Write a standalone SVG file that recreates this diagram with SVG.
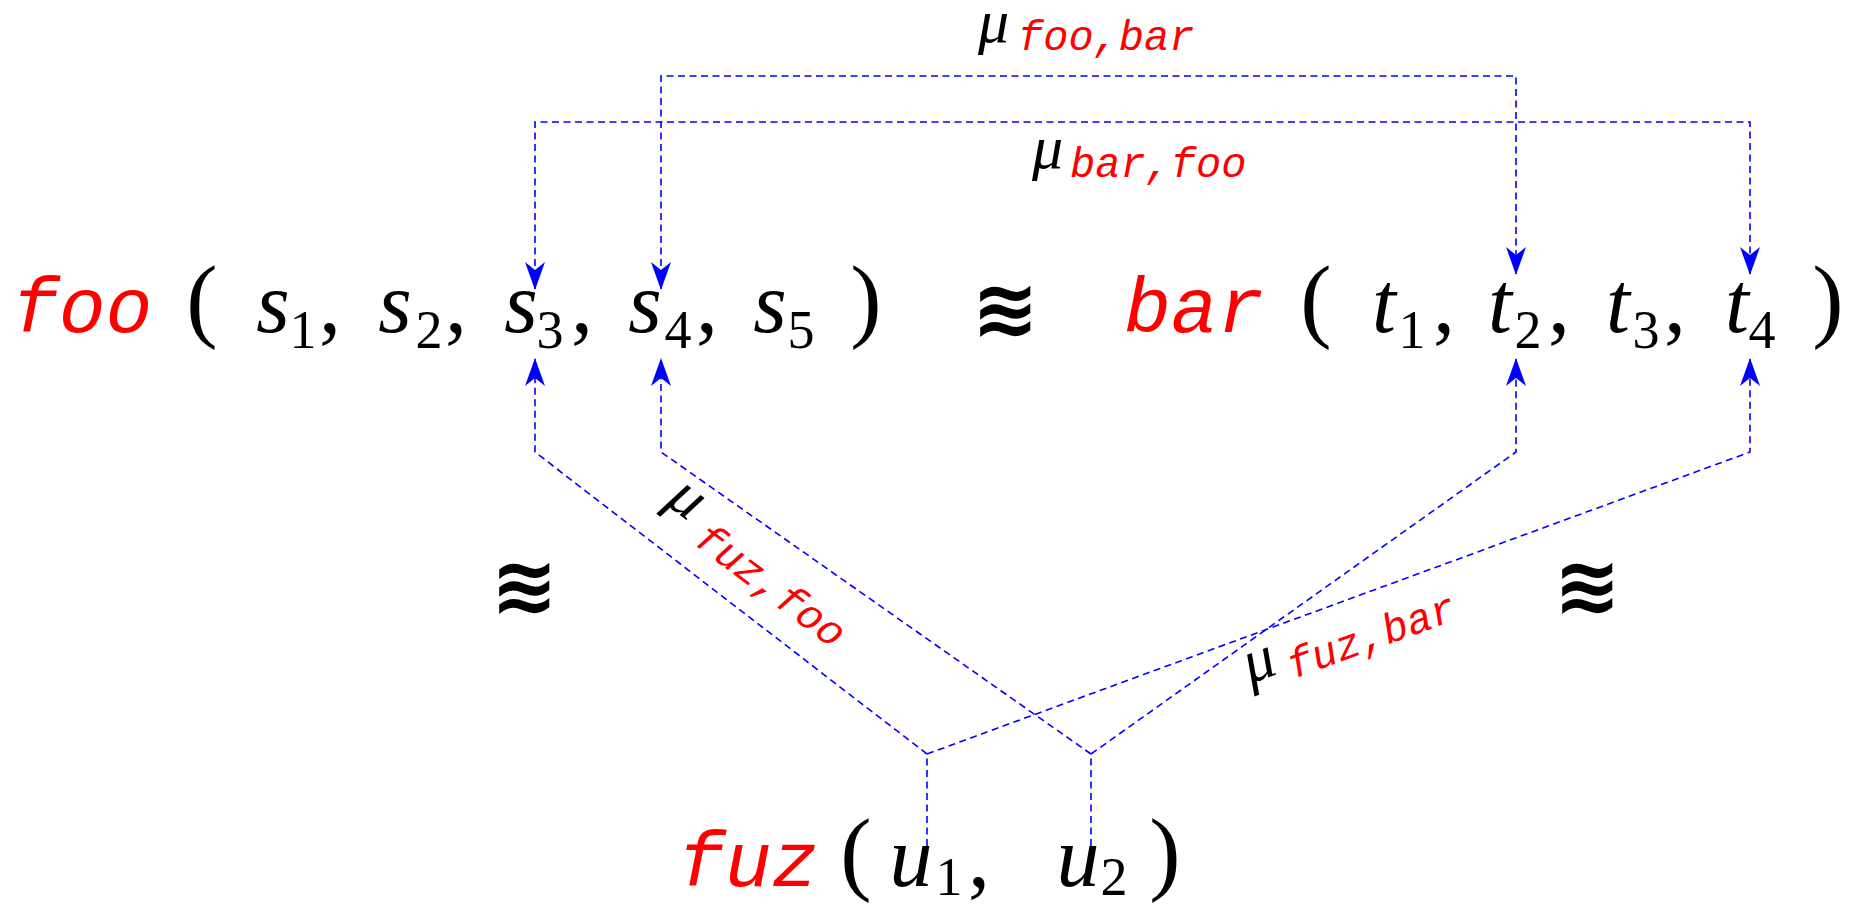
<svg xmlns="http://www.w3.org/2000/svg" width="1858" height="908" viewBox="0 0 1858 908">
<defs>
<style>
.fn{font-family:"Liberation Mono",monospace;font-style:italic;font-size:78px;fill:#ff0000}
.m{font-family:"Liberation Serif",serif;font-style:italic;font-size:86px;fill:#000;text-anchor:middle}
.d{font-family:"Liberation Serif",serif;font-size:54px;fill:#000;text-anchor:middle}
.p{font-family:"Liberation Serif",serif;font-size:94px;fill:#000;text-anchor:middle}
.c{font-family:"Liberation Serif",serif;font-size:88px;fill:#000;text-anchor:middle}
.eq{font-family:"DejaVu Sans",sans-serif;font-weight:bold;font-size:80px;fill:#000;text-anchor:middle}
.mu{font-family:"Liberation Serif",serif;font-style:italic;font-size:62px;fill:#000}
.ms{font-family:"Liberation Mono",monospace;font-style:italic;font-size:42px;fill:#ff0000}
.cn{fill:none;stroke:#0000ff;stroke-width:1.6;stroke-dasharray:7 4.5}
</style>
<marker id="ah" viewBox="0 0 28 20" markerWidth="28" markerHeight="20" markerUnits="userSpaceOnUse" refX="27" refY="10" orient="auto-start-reverse">
<path d="M0,0 L28,10 L0,20 L8,10 Z" fill="#0000ff"/>
</marker>
</defs>
<rect width="1858" height="908" fill="#fff"/>

<g id="connectors">
<path class="cn" d="M661,289 L661,76 L1516,76 L1516,274" marker-start="url(#ah)" marker-end="url(#ah)"/>
<path class="cn" d="M535,289 L535,122 L1750,122 L1750,274" marker-start="url(#ah)" marker-end="url(#ah)"/>
<path class="cn" d="M927,846 L927,754 L535,452 L535,359" marker-end="url(#ah)"/>
<path class="cn" d="M927,754 L1750,452 L1750,359" marker-end="url(#ah)"/>
<path class="cn" d="M1091,846 L1091,754 L661,452 L661,359" marker-end="url(#ah)"/>
<path class="cn" d="M1091,754 L1516,452 L1516,359" marker-end="url(#ah)"/>
</g>

<g id="label-foo-bar">
<text class="mu" x="978" y="42">μ</text>
<text class="ms" x="1018" y="50">foo,bar</text>
</g>
<g id="label-bar-foo">
<text class="mu" x="1032" y="168">μ</text>
<text class="ms" x="1070" y="177">bar,foo</text>
</g>
<g id="label-fuz-foo" transform="translate(692,543) rotate(37)">
<text class="mu" x="-46" y="-15">μ</text>
<text class="ms" x="0" y="0">fuz,foo</text>
</g>
<g id="label-fuz-bar" transform="translate(1293,679) rotate(-20)">
<text class="mu" x="-42" y="-10">μ</text>
<text class="ms" x="0" y="0">fuz,bar</text>
</g>

<g id="foo">
<text class="fn" x="12" y="332">foo</text>
<text class="p" x="202" y="330">(</text>
<text class="m" x="273" y="332">s</text><text class="d" x="303" y="348">1</text><text class="c" x="330" y="332">,</text>
<text class="m" x="395" y="332">s</text><text class="d" x="429" y="348">2</text><text class="c" x="456" y="332">,</text>
<text class="m" x="521" y="332">s</text><text class="d" x="550" y="348">3</text><text class="c" x="582" y="332">,</text>
<text class="m" x="645" y="332">s</text><text class="d" x="678" y="348">4</text><text class="c" x="707" y="332">,</text>
<text class="m" x="770" y="332">s</text><text class="d" x="801" y="348">5</text>
<text class="p" x="866" y="330">)</text>
</g>

<g id="approx-top">
<text class="eq" x="1005" y="336">≋</text>
</g>

<g id="bar">
<text class="fn" x="1124" y="332">bar</text>
<text class="p" x="1316" y="330">(</text>
<text class="m" x="1384" y="332">t</text><text class="d" x="1412" y="348">1</text><text class="c" x="1444" y="332">,</text>
<text class="m" x="1500" y="332">t</text><text class="d" x="1528" y="348">2</text><text class="c" x="1559" y="332">,</text>
<text class="m" x="1618" y="332">t</text><text class="d" x="1646" y="348">3</text><text class="c" x="1675" y="332">,</text>
<text class="m" x="1737" y="332">t</text><text class="d" x="1762" y="348">4</text>
<text class="p" x="1828" y="330">)</text>
</g>

<g id="approx-left">
<text class="eq" x="524" y="613">≋</text>
</g>
<g id="approx-right">
<text class="eq" x="1587" y="613">≋</text>
</g>

<g id="fuz">
<text class="fn" x="678" y="886">fuz</text>
<text class="p" x="856" y="883">(</text>
<text class="m" x="911" y="886">u</text><text class="d" x="949" y="895">1</text><text class="c" x="979" y="886">,</text>
<text class="m" x="1078" y="886">u</text><text class="d" x="1114" y="895">2</text>
<text class="p" x="1165" y="883">)</text>
</g>
</svg>
